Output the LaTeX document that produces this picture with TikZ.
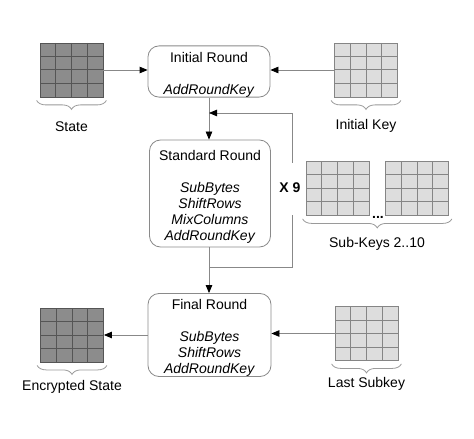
\documentclass[tikz,border=0pt]{standalone}
\usepackage{fontspec}
\setmainfont{Liberation Sans}
\usetikzlibrary{calc,arrows.meta,decorations.pathreplacing}
\definecolor{darkfill}{HTML}{8C8C8C}
\definecolor{darkline}{HTML}{555555}
\definecolor{lightfill}{HTML}{DDDDDD}
\definecolor{lightline}{HTML}{858585}
\definecolor{boxline}{HTML}{8A8A8A}
\definecolor{conn}{HTML}{888888}
\definecolor{brcol}{HTML}{9A9A9A}
\newcommand{\topstrut}{\rule{0pt}{16.5bp}}
\tikzset{
  every node/.style={font=\fontsize{14bp}{15.9bp}\selectfont},
  grid4/.style={draw=#1, inner sep=0pt, minimum width=63bp, minimum height=54bp, line width=0.8bp,
    path picture={
      \foreach \f in {0.25,0.5,0.75}{
        \draw[#1, line width=1bp] ($(path picture bounding box.north west)!\f!(path picture bounding box.north east)$) -- ($(path picture bounding box.south west)!\f!(path picture bounding box.south east)$);
        \draw[#1, line width=1bp] ($(path picture bounding box.north west)!\f!(path picture bounding box.south west)$) -- ($(path picture bounding box.north east)!\f!(path picture bounding box.south east)$);
      }}},
  darkgrid/.style={grid4=darkline, fill=darkfill},
  lightgrid/.style={grid4=lightline, fill=lightfill},
  roundbox/.style={draw=boxline, line width=0.8bp, rounded corners=11bp, align=center, inner sep=0pt},
  conline/.style={draw=conn, line width=0.8bp},
  arr/.style={conline, -{Triangle[length=8bp,width=6.5bp,fill=black,color=black]}},
  brc/.style={draw=brcol, line width=0.8bp, decorate, decoration={brace, mirror, amplitude=9bp}},
  lbl/.style={inner sep=0pt},
}
\begin{document}
\begin{tikzpicture}[x=1bp,y=-1bp]
\useasboundingbox (0,0) rectangle (474,439);

% grids
\node[darkgrid] (state) at (71.5,70) {};
\node[lightgrid] (initkey) at (366,70) {};
\node[lightgrid] (sub1) at (337.5,188.5) {};
\node[lightgrid] (sub2) at (417,188.5) {};
\node[darkgrid] (enc) at (72,335) {};
\node[lightgrid] (lastkey) at (366.5,333.5) {};

% round boxes
\node[roundbox, minimum width=122bp, minimum height=51bp] (init) at (209,71.5)
  {\topstrut Initial Round\\[15.9bp]\textit{AddRoundKey}};
\node[roundbox, minimum width=121bp, minimum height=107bp] (std) at (210,193.5)
  {\topstrut Standard Round\\[15.9bp]\textit{SubBytes}\\\textit{ShiftRows}\\\textit{MixColumns}\\\textit{AddRoundKey}};
\node[roundbox, minimum width=123bp, minimum height=80bp] (final) at (209.5,335)
  {\topstrut Final Round\\[15.9bp]\textit{SubBytes}\\\textit{ShiftRows}\\\textit{AddRoundKey}};

% labels
\node[lbl] (statelbl) at (71.5,127) {State};
\node[lbl] (initkeylbl) at (366,126) {Initial Key};
\node[lbl] (sublbl) at (377,244) {Sub-Keys 2..10};
\node[lbl] (enclbl) at (72,387) {Encrypted State};
\node[lbl] (lastlbl) at (366.5,384) {Last Subkey};
\node[lbl, font=\fontsize{14bp}{15.9bp}\selectfont\bfseries] (x9) at (290,188) {X 9};
\node[lbl, font=\fontsize{14bp}{15.9bp}\selectfont\bfseries] (dots) at (378,217) {...};

% braces
\draw[brc] ([xshift=-3bp,yshift=-3bp]state.south west) -- ([xshift=3bp,yshift=-3bp]state.south east);
\draw[brc] ([xshift=-3bp,yshift=-3bp]initkey.south west) -- ([xshift=3bp,yshift=-3bp]initkey.south east);
\draw[brc] ([xshift=-3bp,yshift=-3bp]sub1.south west) -- ([xshift=3bp,yshift=-3bp]sub2.south east);
\draw[brc] ([xshift=-3bp,yshift=-3bp]enc.south west) -- ([xshift=3bp,yshift=-3bp]enc.south east);
\draw[brc] ([xshift=-3bp,yshift=-3bp]lastkey.south west) -- ([xshift=3bp,yshift=-3bp]lastkey.south east);

% connectors
\draw[arr] (state.east) -- (state.east -| init.west);
\draw[arr] (initkey.west) -- (initkey.west -| init.east);
\draw[arr] (init.south -| 209,0) -- (std.north -| 209,0);
\draw[arr] (std.south -| 209,0) -- (final.north -| 209,0);
\draw[arr] (enc.east -| final.west) -- (enc.east);
\draw[arr] (lastkey.west) -- (lastkey.west -| final.east);

% loop
\coordinate (j1) at (209,267);
\coordinate (j2) at (209,113);
\coordinate (x9b) at (292,215);
\coordinate (x9t) at (292,163);
\draw[conline] (j1) -| (x9b);
\draw[arr] (x9t) |- (j2);
\end{tikzpicture}
\end{document}
